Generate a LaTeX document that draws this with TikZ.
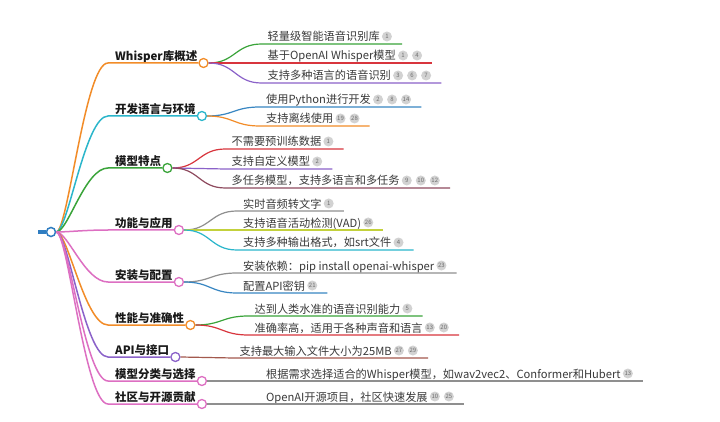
\documentclass[tikz,border=0pt]{standalone}
\usepackage{fontspec}
\setmainfont{Noto Sans CJK SC}
\usetikzlibrary{calc}
\definecolor{cOrange}{HTML}{F28C28}
\definecolor{cCyan}{HTML}{2BB6CB}
\definecolor{cGreen}{HTML}{3AA43A}
\definecolor{cPink}{HTML}{DD6FC2}
\definecolor{cPurple}{HTML}{8B62C9}
\definecolor{cRed}{HTML}{D8353D}
\definecolor{cBlue}{HTML}{3886C2}
\definecolor{cMauve}{HTML}{8E4A5E}
\definecolor{cBrown}{HTML}{A3594D}
\definecolor{cGray}{HTML}{8F8F8F}
\definecolor{cLime}{HTML}{C3D13C}
\definecolor{cRoot}{HTML}{2F7DC1}
\definecolor{cText}{HTML}{3A3A3A}
\definecolor{cBadge}{HTML}{D2D2D2}
\definecolor{cBadgeText}{HTML}{6E6E6E}
\tikzset{
  catlabel/.style={inner sep=0pt, font=\fontsize{11.5}{13}\selectfont\bfseries, text=black!90},
  leaflabel/.style={inner sep=0pt, font=\fontsize{11.2}{13}\selectfont, text=cText},
  dotnode/.style={circle, minimum size=9pt, inner sep=0pt, fill=white, line width=1.3pt},
  badge/.style={circle, fill=cBadge, minimum size=10pt, inner sep=0pt, font=\fontsize{6}{6}\selectfont, text=cBadgeText},
  mainline/.style={line width=1.5pt},
  leafline/.style={line width=1.2pt},
}
\newcommand\catnode[4]{%
  \node[catlabel, anchor=base west] (#1) at (115,{#2-2.5}) {#4};
  \path (#1.east) ++(6,0) coordinate (#1x);
  \node[dotnode, draw=#3] (#1d) at (#1x |- 0,#2) {};
  \coordinate (#1e) at (108,#2);
  \draw[mainline, #3] (rootc.east) .. controls (68,232) and (85,#2) .. (#1e) -- (#1d.west);
}
\newcommand\leafnode[6]{%
  \path (#2d.center) ++(64,0) coordinate (#1x);
  \node[leaflabel, anchor=base west] (#1) at (#1x |- 0,{#3-3}) {#5};
  \coordinate (#1end) at (#1.east);
  \foreach \bn [count=\i] in {#6} {
    \path (#1.east) ++({7+14*(\i-1)},0) coordinate (#1bx);
    \node[badge] (#1b\i) at (#1bx |- 0,{#3-7.5}) {\bn};
    \path (#1b\i.east) ++(10,0) coordinate (#1end);
  }
  \path (#1x) ++(-6,0) coordinate (#1s);
  \coordinate (#1st) at (#1s |- 0,#3);
  \coordinate (#1m) at ($(#2d.east)!0.5!(#1st)$);
  \draw[leafline, #4] (#2d.east) .. controls (#1m |- #2d.east) and (#1m |- #1st) .. (#1st) -- (#1end |- #1st);
}
\begin{document}
\begin{tikzpicture}[x=1pt,y=-1pt]
\useasboundingbox[fill=white] (0,0) rectangle (720,422);
\node[circle, draw=cRoot, fill=white, line width=1.5pt, minimum size=9pt, inner sep=0pt] (rootc) at (51,232) {};
\coordinate (rootl) at (38,232);
\draw[cRoot, line width=3pt] (rootl) -- (rootc.west);

\catnode{c1}{63}{cOrange}{Whisper库概述}
\catnode{c2}{116}{cCyan}{开发语言与环境}
\catnode{c3}{168}{cGreen}{模型特点}
\catnode{c4}{230}{cPink}{功能与应用}
\catnode{c5}{282}{cPink}{安装与配置}
\catnode{c6}{325}{cOrange}{性能与准确性}
\catnode{c7}{357}{cPurple}{API与接口}
\catnode{c8}{381}{cPink}{模型分类与选择}
\catnode{c9}{404}{cPink}{社区与开源贡献}

\leafnode{l11}{c1}{44}{cGreen}{轻量级智能语音识别库}{1}
\leafnode{l12}{c1}{63}{cRed}{基于OpenAI Whisper模型}{1,4}
\leafnode{l13}{c1}{83}{cPurple}{支持多种语言的语音识别}{3,6,7}
\leafnode{l21}{c2}{107}{cBlue}{使用Python进行开发}{2,8,14}
\leafnode{l22}{c2}{126}{cOrange}{支持离线使用}{19,28}
\leafnode{l31}{c3}{149}{cRed}{不需要预训练数据}{1}
\leafnode{l32}{c3}{169}{cPurple}{支持自定义模型}{2}
\leafnode{l33}{c3}{188}{cMauve}{多任务模型，支持多语言和多任务}{9,10,12}
\leafnode{l41}{c4}{211}{cGray}{实时音频转文字}{1}
\leafnode{l42}{c4}{230}{cLime}{支持语音活动检测(VAD)}{26}
\leafnode{l43}{c4}{250}{cCyan}{支持多种输出格式，如srt文件}{4}
\leafnode{l51}{c5}{273}{cGray}{安装依赖：pip install openai-whisper}{23}
\leafnode{l52}{c5}{293}{cBlue}{配置API密钥}{21}
\leafnode{l61}{c6}{316}{cGreen}{达到人类水准的语音识别能力}{5}
\leafnode{l62}{c6}{335}{cRed}{准确率高，适用于各种声音和语言}{13,20}
\leafnode{l71}{c7}{358}{cBrown}{支持最大输入文件大小为25MB}{27,29}
\leafnode{l81}{c8}{381}{cGray}{根据需求选择适合的Whisper模型，如wav2vec2、Conformer和Hubert}{13}
\leafnode{l91}{c9}{404}{cGray}{OpenAI开源项目，社区快速发展}{10,25}
\end{tikzpicture}
\end{document}
